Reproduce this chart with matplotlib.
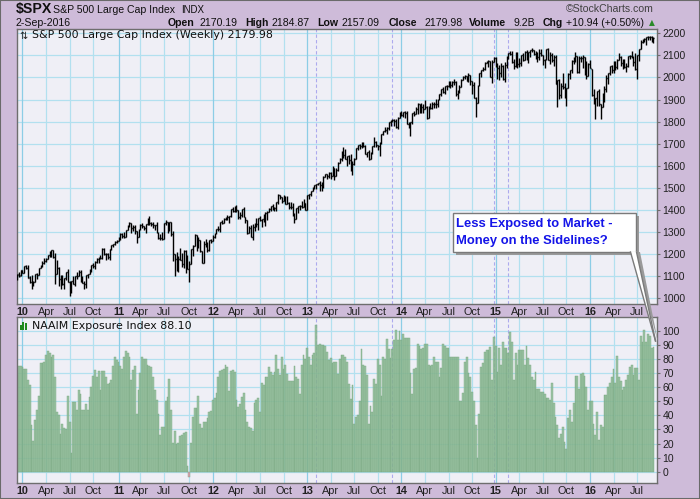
import matplotlib
matplotlib.use('Agg')
import matplotlib.pyplot as plt
import matplotlib.dates as mdates
from matplotlib.patches import Rectangle, Polygon
from matplotlib.lines import Line2D
import pandas as pd

# ---------------- data (weekly, ending 2016-09-02) ----------------
spx_open = [
 1104,1108,1105,1127,
 1116,1145,1136,1096, 1074,1066,1075,1110, 1105,1138,1150,1159, 1167,1179,1194,1192,1217, 1188,1111,1136,1087, 1089,1064,1092,1117, 1076,1022,1078,1065,1102, 1102,1121,1079,1071, 1065,1104,1110,1125, 1149,1146,1166,1176,1183, 1183,1225,1199,1199, 1189,1224,1240,1244,1257,
 1258,1272,1293,1283, 1276,1310,1329,1343, 1320,1321,1304,1279, 1313,1332,1328,1319,1337, 1363,1340,1338,1333, 1331,1300,1271,1271, 1268,1339,1344,1316,1345, 1292,1199,1179,1124, 1177,1174,1154,1216,1136, 1131,1155,1225,1238, 1285,1253,1263,1216, 1159,1244,1255,1219,1265,
 1258,1278,1289,1315, 1316,1345,1342,1361, 1366,1370,1371,1404,1397, 1408,1398,1370,1378, 1403,1369,1353,1295, 1318,1278,1325,1343,1335, 1362,1354,1357,1363, 1386,1391,1406,1418,1411, 1407,1438,1466,1460, 1441,1461,1429,1433, 1412,1414,1380,1360,1409, 1416,1418,1413,1430,
 1402,1466,1472,1486, 1503,1513,1518,1520, 1515,1518,1551,1561,1556, 1569,1553,1588,1555, 1582,1614,1633,1667,1650, 1631,1643,1626,1593, 1606,1632,1680,1692, 1691,1710,1691,1655,1664, 1633,1655,1688,1710, 1692,1690,1703,1745, 1759,1762,1771,1798,1804, 1806,1805,1775,1818,
 1842,1831,1842,1839,1790, 1782,1797,1838,1836, 1859,1878,1841,1866, 1857,1865,1815,1864, 1863,1881,1878,1878,1900, 1924,1949,1936,1963, 1961,1985,1967,1978, 1978,1925,1931,1955,1989, 2003,2008,1985,2010, 1982,1968,1906,1886,1964, 2018,2032,2039,2064, 2068,2075,2003,2071,
 2089,2058,2045,2019,2051, 1995,2055,2097,2110, 2105,2071,2053,2108, 2061,2067,2102,2081, 2117,2108,2116,2123,2126, 2107,2092,2094,2110, 2102,2077,2077,2127,2079, 2104,2078,2092,1971, 1989,1921,1961,1958, 1931,1951,2015,2033,2075, 2079,2099,2023,2089, 2090,2092,2012,2006,2061,
 2038,1922,1880,1907, 1940,1880,1865,1918, 1948,1999,2022,2050, 2035,2073,2048,2081,2092, 2065,2057,2047,2052, 2099,2099,2096,2071, 2037,2103,2130,2162,2175, 2174,2183,2184,2184, 2170]
spx_high = [
 1110,1117,1128,1130,
 1146,1150,1150,1103, 1104,1080,1112,1113, 1139,1151,1170,1181, 1182,1195,1214,1217,1219, 1206,1173,1141,1104, 1106,1092,1121,1131, 1077,1078,1099,1103,1120, 1129,1129,1100,1080, 1105,1110,1131,1149, 1158,1167,1184,1189,1196, 1227,1227,1207,1205, 1225,1240,1246,1259,1262,
 1277,1294,1296,1302, 1311,1331,1344,1343, 1332,1330,1304,1315, 1337,1339,1329,1337,1364, 1371,1346,1346,1334, 1346,1300,1292,1298, 1341,1356,1344,1347,1346, 1307,1199,1208,1190, 1230,1204,1220,1220,1196, 1171,1225,1240,1293, 1285,1277,1266,1216, 1260,1267,1256,1265,1269,
 1285,1296,1316,1326, 1345,1355,1362,1368, 1378,1372,1405,1414,1419, 1422,1399,1392,1406, 1415,1369,1355,1329, 1334,1335,1343,1363,1362, 1374,1357,1380,1389, 1394,1407,1418,1426,1413, 1438,1474,1467,1460, 1470,1465,1465,1434, 1434,1433,1388,1409,1419, 1423,1439,1448,1430,
 1467,1472,1486,1503, 1514,1518,1524,1530, 1525,1552,1564,1564,1570, 1573,1597,1588,1592, 1618,1635,1667,1687,1674, 1646,1648,1654,1620, 1635,1680,1693,1698, 1710,1710,1696,1664,1670, 1664,1689,1730,1711, 1693,1710,1745,1759, 1775,1774,1798,1808,1813, 1810,1811,1823,1844,
 1849,1843,1850,1850,1798, 1798,1840,1847,1867, 1883,1882,1883,1882, 1897,1872,1869,1884, 1891,1888,1902,1901,1924, 1949,1955,1963,1968, 1985,1985,1983,1991, 1985,1942,1964,1994,2006, 2011,2008,2020,2010, 1986,1978,1912,1965,2018, 2034,2046,2071,2076, 2079,2076,2077,2093,
 2093,2065,2057,2064,2057, 2072,2097,2111,2119, 2118,2083,2114,2114, 2089,2103,2111,2120, 2126,2117,2124,2134,2126, 2121,2115,2127,2130, 2102,2083,2127,2133,2114, 2113,2103,2102,1989, 1993,1975,2021,1974, 1953,2020,2034,2080,2094, 2116,2099,2097,2095, 2104,2092,2076,2067,2081,
 2038,1950,1908,1940, 1947,1881,1930,1963, 2009,2022,2052,2056, 2075,2075,2083,2111,2095, 2083,2084,2066,2099, 2104,2120,2096,2113, 2104,2131,2169,2176,2178, 2183,2188,2187,2187, 2185]
spx_low = [
 1085,1095,1100,1114,
 1116,1131,1090,1071, 1044,1056,1075,1086, 1104,1136,1140,1157, 1163,1179,1186,1187,1183, 1066,1111,1056,1040, 1060,1043,1084,1073, 1011,1022,1063,1056,1087, 1102,1076,1069,1040, 1048,1091,1110,1121, 1139,1131,1159,1159,1177, 1180,1194,1173,1176, 1174,1218,1232,1243,1251,
 1258,1262,1271,1275, 1276,1310,1324,1294, 1303,1291,1249,1279, 1308,1318,1309,1294,1330, 1330,1329,1318,1311, 1297,1268,1262,1262, 1268,1331,1295,1305,1282, 1168,1101,1122,1121, 1172,1140,1137,1114,1131, 1074,1155,1191,1235, 1215,1226,1209,1158, 1159,1231,1209,1212,1249,
 1258,1275,1289,1306, 1300,1335,1340,1355, 1354,1340,1370,1391,1391, 1392,1357,1358,1366, 1367,1343,1291,1295, 1277,1266,1306,1324,1310, 1350,1325,1345,1329, 1354,1391,1397,1398,1397, 1396,1429,1449,1430, 1439,1425,1428,1403, 1405,1373,1343,1360,1385, 1398,1411,1413,1398,
 1402,1451,1461,1484, 1496,1495,1513,1485, 1485,1501,1549,1538,1546, 1539,1553,1536,1555, 1577,1614,1623,1635,1630, 1598,1608,1577,1560, 1604,1632,1672,1676, 1679,1683,1654,1639,1628, 1633,1655,1685,1687, 1670,1646,1700,1740, 1752,1746,1761,1780,1798, 1779,1772,1767,1818,
 1827,1823,1815,1790,1770, 1737,1791,1824,1836, 1834,1839,1839,1839, 1857,1814,1815,1858, 1859,1860,1862,1868,1900, 1916,1930,1925,1944, 1958,1952,1955,1965, 1916,1904,1928,1955,1987, 1992,1983,1979,1965, 1926,1906,1821,1886,1962, 2001,2030,2034,2064, 2049,2003,1973,2068,
 2046,1992,1988,2004,1989, 1980,2041,2085,2103, 2067,2039,2049,2045, 2048,2052,2073,2080, 2077,2067,2092,2115,2103, 2085,2072,2078,2099, 2056,2044,2077,2077,2063, 2070,2052,1971,1867, 1903,1909,1948,1909, 1872,1951,1992,2021,2059, 2070,2022,2019,2070, 2042,2012,1994,2005,2043,
 1918,1878,1812,1872, 1872,1810,1865,1891, 1933,1969,2012,2022, 2022,2033,2039,2078,2053, 2039,2045,2025,2047, 2085,2089,2050,2032, 1992,2075,2128,2157,2159, 2148,2168,2169,2160, 2157]
spx_close = [
 1106,1102,1126,1115,
 1145,1136,1092,1074, 1066,1075,1109,1104, 1138,1150,1159,1167, 1179,1194,1192,1217,1187, 1111,1136,1087,1089, 1064,1092,1117,1076, 1022,1078,1065,1102,1102, 1121,1079,1071,1065, 1104,1110,1125,1149, 1146,1166,1176,1183,1183, 1225,1199,1199,1189, 1224,1240,1244,1257,1258,
 1272,1293,1283,1276, 1310,1329,1343,1320, 1321,1304,1279,1313, 1332,1328,1319,1337,1363, 1340,1338,1333,1331, 1300,1271,1271,1268, 1339,1344,1316,1345,1292, 1199,1179,1124,1177, 1174,1154,1216,1136,1131, 1155,1225,1238,1285, 1253,1263,1216,1159, 1244,1255,1219,1265,1258,
 1278,1289,1315,1316, 1345,1342,1361,1366, 1370,1371,1404,1397,1408, 1398,1370,1378,1403, 1369,1353,1295,1318, 1278,1325,1343,1335,1362, 1354,1357,1363,1386, 1391,1406,1418,1411,1407, 1438,1466,1460,1441, 1461,1429,1433,1412, 1414,1380,1360,1409,1416, 1418,1413,1430,1402,
 1466,1472,1486,1503, 1513,1518,1520,1515, 1518,1551,1561,1556,1569, 1553,1588,1555,1582, 1614,1633,1667,1650,1631, 1643,1626,1593,1606, 1632,1680,1692,1691, 1710,1691,1655,1664,1633, 1655,1688,1710,1692, 1690,1703,1745,1759, 1762,1771,1798,1804,1806, 1805,1775,1818,1842,
 1831,1842,1839,1790,1782, 1797,1838,1836,1859, 1878,1841,1866,1857, 1865,1815,1864,1863, 1881,1878,1878,1900,1924, 1949,1936,1963,1961, 1985,1967,1978,1978, 1925,1931,1955,1989,2003, 2008,1985,2010,1982, 1968,1906,1886,1964,2018, 2032,2039,2064,2068, 2075,2003,2071,2089,
 2058,2045,2019,2051,1995, 2055,2097,2110,2105, 2071,2053,2108,2061, 2067,2102,2081,2117, 2108,2116,2123,2126,2107, 2092,2094,2110,2102, 2077,2077,2127,2079,2104, 2078,2092,1971,1989, 1921,1961,1958,1931, 1951,2015,2033,2075,2079, 2099,2023,2089,2090, 2092,2012,2006,2061,2044,
 1922,1880,1907,1940, 1880,1865,1918,1948, 1999,2022,2050,2035, 2073,2048,2081,2092,2065, 2057,2047,2052,2099, 2099,2096,2071,2037, 2103,2130,2162,2175,2174, 2183,2184,2184,2169, 2180]

naaim = [
 68.6,75,75,74.5,72.8,72.8,65,61.5,33,22,37,44,54,
 77,77,78,83,85.6,84,81.6,83,67,42,40,
 26.7,34,31,30,53.7,35.5,13,49.6,49.6,44,58,55,
 44,44,48,44,53,60,68,72,67,71.6,58,71.4,
 71.6,67,62,62.6,65,75,81,79,78,75,72.6,81.6,
 85.6,84,81,65,72,75,41,58,70,81,80,80,
 75.6,75,74.5,67,58,51,41,26,32,32,50,53,65.5,
 44,20.6,29,20,20.6,25,26,27.7,28,4,-3.5,
 20.6,38.5,45,45,53.7,34,31,35,35.5,37.8,42.5,43,
 51,52,55.6,67,71.6,72,73,75.6,74.5,57.4,71.4,72,
 71,51,45.6,48,53,55.6,44,35.5,31.4,31,
 29,49,51,52,42.5,62.6,61.5,67,67,74,70.4,68.6,
 71,82.7,73,68.6,81,73,75.7,69,64,64,64,75,
 67,65.7,54.8,75.7,82.7,79.7,88,81.6,75.7,83,84.4,104,
 89.8,90.3,90,90,89.4,84.6,79,80.4,76.8,78,78,69,
 79.7,82.7,83,81.6,78,62,51.5,61.5,34,39,40,50,86.8,
 75.7,75,68.6,34,46.6,42,65.5,62,79.7,76,53.7,81,
 79.7,94,86.8,80.4,86.8,93.4,100.5,93.4,100,93.4,98,94.6,
 94.6,94.6,70,54.8,72.8,73.3,90.8,89.4,86.8,87.5,90.3,90.8,
 75.7,75,76,81.6,78,78,67,73.3,90.3,89.4,88,87.5,
 81.6,81.6,81.6,81,81,50,50,55.6,78,81.6,70,67,56.7,
 50,33,9.5,40.7,74.5,77.3,84.6,86.3,86.3,88.7,65,
 95.5,89,70.4,87.5,75.7,91.7,88,87.5,84,98.8,92.2,65,
 84,75.7,86.3,86.3,86.3,75.7,89.4,80.4,76,67,65,70.4,
 59,59,56.7,56.3,54.8,52.5,52,50.8,62.6,48.5,39,33,
 24,26.5,31.4,21.3,16,38.3,43.7,35,49,68,68,58.6,69,
 70,67.8,60,43.7,50,50,34,26,42,22.5,33,32,
 54.4,54.4,60,62.6,67,72.6,62.6,82,67,64.5,58,
 60,65,68.6,74.5,75.6,68.6,73.8,73.3,65,96,92,100.5,
 92,98,96,88,88.1]

event_dates = ['2013-02-08', '2013-11-29', '2014-12-26', '2015-02-20']
spx_yticks = list(range(1000, 2201, 100))
naaim_yticks = list(range(0, 101, 10))

# ---------------- layout helpers ----------------
W, H = 700, 499
BG = '#CEBBD9'
PANEL = '#EFEFF6'
GRID = '#B2E0EF'
GRID_Y = '#8CCDE6'
SANS = 'Liberation Sans'

fig = plt.figure(figsize=(7, 4.99), dpi=100)
fig.patch.set_facecolor(BG)

def fx(x):
    return x / W

def fy(y):
    return 1 - y / H

dates = pd.date_range(end='2016-09-02', periods=len(spx_close), freq='W-FRI')
d = mdates.date2num(dates)
ndates = pd.date_range(end='2016-09-02', periods=len(naaim), freq='W-FRI')
nd = mdates.date2num(ndates)

px_per_day = 1.813 / 7.0
x0 = mdates.date2num(pd.Timestamp('2010-01-08')) - 7.3 / px_per_day
x1 = x0 + 640 / px_per_day

ax1 = fig.add_axes([fx(17), fy(304), 640 / W, 275 / H])
ax2 = fig.add_axes([fx(17), fy(483), 640 / W, 166 / H])

# quarter gridlines
qd, ql, qy = [], [], []
prev = (dates[0].year, dates[0].quarter)
for dt in dates[1:]:
    key = (dt.year, dt.quarter)
    if key != prev:
        qd.append(mdates.date2num(dt))
        if dt.quarter == 1:
            ql.append('%02d' % (dt.year % 100))
            qy.append(True)
        else:
            ql.append({2: 'Apr', 3: 'Jul', 4: 'Oct'}[dt.quarter])
            qy.append(False)
    prev = key

for ax, yt in ((ax1, spx_yticks), (ax2, naaim_yticks)):
    ax.set_facecolor(PANEL)
    ax.set_xlim(x0, x1)
    for v in yt:
        ax.axhline(v, color=GRID, lw=0.9, zorder=1)
    for q, isy in zip(qd, qy):
        ax.axvline(q, color=GRID_Y if isy else GRID, lw=0.9, zorder=1)
    for ed in event_dates:
        ax.axvline(mdates.date2num(pd.Timestamp(ed)), color='#ADAAEE', lw=0.8,
                   ls=(0, (3, 2)), zorder=1.5)
    for s in ax.spines.values():
        s.set_color('#6E6E6E')
        s.set_linewidth(1.0)
    ax.yaxis.tick_right()
    ax.set_yticks(yt)
    ax.set_yticklabels([str(v) for v in yt], fontsize=7.5, family=SANS, color='#202020')
    ax.tick_params(axis='y', length=2.5, width=0.8, color='#6E6E6E', pad=1.5)
    ax.set_xticks(qd)
    ax.set_xticklabels(ql, fontsize=7.8, family=SANS, color='#202020')
    ax.tick_params(axis='x', length=0, pad=2.0)
    for lab, isy in zip(ax.get_xticklabels(), qy):
        if isy:
            lab.set_fontweight('bold')

ax1.set_ylim(974.2, 2219.5)
ax2.set_ylim(-8.0, 109.7)

# OHLC bars
ax1.vlines(d, spx_low, spx_high, color='black', lw=1.0, zorder=3)
ax1.hlines(spx_open, d - 3.2, d, color='black', lw=1.0, zorder=3)
ax1.hlines(spx_close, d, d + 3.2, color='black', lw=1.0, zorder=3)

# NAAIM histogram
cols = ['#8CBB94' if v >= 0 else '#E58FA3' for v in naaim]
ax2.bar(nd, naaim, width=7.0, color=cols, alpha=0.82, edgecolor='#74A47D',
        linewidth=0.35, zorder=2)

# panel labels
ax1.text(fx(19), fy(35.5), '\u21c5', transform=fig.transFigure, fontsize=7,
         family='DejaVu Sans', va='center', ha='left', color='#202020')
ax1.text(fx(31.5), fy(35.5), 'S&P 500 Large Cap Index (Weekly) 2179.98',
         transform=fig.transFigure, fontsize=7.9, family='DejaVu Sans',
         va='center', ha='left', color='#101010', zorder=5)
for i, (bx, bh) in enumerate(((19.5, 5), (22.3, 8), (25.1, 6.5))):
    fig.patches.append(Rectangle((fx(bx), fy(329.5)), 2.2 / W, bh / H,
                                 transform=fig.transFigure, facecolor='#1E8A1E',
                                 edgecolor='none', zorder=6))
fig.text(fx(31.5), fy(326), 'NAAIM Exposure Index 88.10', fontsize=7.9,
         family='DejaVu Sans', va='center', ha='left', color='#101010', zorder=6)

# header
fig.text(fx(16), fy(13.5), '$SPX', fontsize=10.2, fontweight='bold', family=SANS,
         va='baseline', ha='left', color='#101010')
fig.text(fx(53), fy(13), 'S&P 500 Large Cap Index', fontsize=7.6, family=SANS,
         va='baseline', ha='left', color='#101010')
fig.text(fx(181), fy(13), 'INDX', fontsize=7.0, family=SANS,
         va='baseline', ha='left', color='#101010')
fig.text(fx(16), fy(26), '2-Sep-2016', fontsize=7.6, family=SANS,
         va='baseline', ha='left', color='#101010')
fig.text(fx(566), fy(12.5), '\u00a9StockCharts.com', fontsize=7.6, family=SANS,
         va='baseline', ha='left', color='#404040')
hdr = [(168, 'Open', True), (199, '2170.19', False), (245, 'High', True),
       (272, '2184.87', False), (317, 'Low', True), (341, '2157.09', False),
       (389, 'Close', True), (424, '2179.98', False), (469, 'Volume', True),
       (514, '9.2B', False), (543, 'Chg', True), (566, '+10.94 (+0.50%)', False)]
for x, s, b in hdr:
    fig.text(fx(x), fy(26), s, fontsize=7.6, family=SANS,
             fontweight='bold' if b else 'normal', va='baseline', ha='left',
             color='#101010')
fig.text(fx(649), fy(25.5), '\u25b2', fontsize=5.5, family='DejaVu Sans',
         va='baseline', ha='left', color='#2A8A2A')

# callout
shadow = '#9A9A9A'
fig.patches.append(Polygon([(fx(456), fy(255)), (fx(639), fy(255)), (fx(639), fy(216)),
                            (fx(636), fy(216)), (fx(636), fy(252)), (fx(456), fy(252))],
                           closed=True, transform=fig.transFigure, facecolor=shadow,
                           edgecolor='none', zorder=7))
fig.patches.append(Polygon([(fx(633), fy(252)), (fx(640), fy(252)), (fx(658), fy(342))],
                           closed=True, transform=fig.transFigure, facecolor=shadow,
                           edgecolor='none', zorder=7))
fig.patches.append(Rectangle((fx(453), fy(252)), 183 / W, 39 / H,
                             transform=fig.transFigure, facecolor='white',
                             edgecolor='#7A7A7A', lw=1.0, zorder=8))
fig.patches.append(Polygon([(fx(630.5), fy(251.2)), (fx(636.5), fy(251.2)), (fx(655.5), fy(341))],
                           closed=True, transform=fig.transFigure, facecolor='white',
                           edgecolor='none', zorder=9))
fig.lines.append(Line2D([fx(630.5), fx(655.5)], [fy(252), fy(341)], transform=fig.transFigure,
                        color='#7A7A7A', lw=1.0, zorder=10))
fig.lines.append(Line2D([fx(636.5), fx(655.5)], [fy(252), fy(341)], transform=fig.transFigure,
                        color='#7A7A7A', lw=1.0, zorder=10))
fig.text(fx(456), fy(224), 'Less Exposed to Market -', fontsize=9.4, fontweight='bold',
         family=SANS, va='center', ha='left', color='#1414E8', zorder=11)
fig.text(fx(456), fy(241), 'Money on the Sidelines?', fontsize=9.4, fontweight='bold',
         family=SANS, va='center', ha='left', color='#1414E8', zorder=11)

# outer frame
fig.patches.append(Rectangle((0, 0), 1, 1, transform=fig.transFigure, facecolor='none',
                             edgecolor='#6A6A6A', lw=1.5, zorder=20))

fig.savefig('out.png', dpi=100, facecolor=fig.get_facecolor())
